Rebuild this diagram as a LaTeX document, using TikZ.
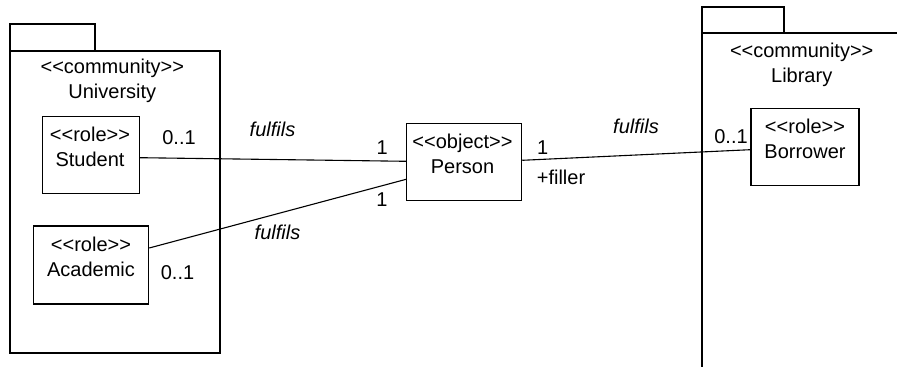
\documentclass[tikz,border=0pt]{standalone}
\usepackage{fontspec}
\setmainfont{Liberation Sans}[Ligatures=TeXOff]
\usetikzlibrary{positioning}
\newcommand{\stype}[1]{<\kern0pt<#1>\kern0pt>}

\begin{document}
\begin{tikzpicture}[x=0.5pt, y=-0.5pt, line width=0.55pt,
        every node/.style={font=\fontsize{10}{12.5}\selectfont},
        rolebox/.style={rectangle, draw, inner sep=0pt, minimum height=38.5pt},
        stereo/.style={align=center, inner sep=0pt},
        mult/.style={inner sep=0pt},
        assoc/.style={inner sep=0pt, font=\fontsize{10}{12.5}\selectfont\itshape}]
        \useasboundingbox (0,0) rectangle (897,367);

        \draw (10,24) rectangle (95,51);
        \draw (10,51) rectangle (220,353);
        \node[stereo] (univ) at (112.3,80.5) {\stype{community}\\University};

        \draw (702,7) rectangle (784,33);
        \draw (897,33) -- (702,33) -- (702,367);
        \node[stereo] (lib) at (801.7,64.5) {\stype{community}\\Library};

        \node[rolebox, minimum width=48.5pt] (student) at (90.8,154.7) {};
        \node[stereo] (studenttxt) at (90,146.5) {\stype{role}\\Student};
        \node[rolebox, minimum width=57.7pt, minimum height=39pt] (academic) at (91,265) {};
        \node[stereo] (academictxt) at (91,257) {\stype{role}\\Academic};
        \node[rolebox, minimum width=57.5pt] (person) at (464.2,162.3) {};
        \node[stereo] (persontxt) at (462.5,154) {\stype{object}\\Person};
        \node[rolebox, minimum width=54pt] (borrower) at (805,146.7) {};
        \node[stereo] (borrowertxt) at (805,139) {\stype{role}\\Borrower};

        \draw ([yshift=-1.5pt]student.east) -- ([yshift=0.5pt]person.west);
        \draw ([yshift=8.5pt]academic.east) -- ([yshift=-8.5pt]person.west);
        \draw ([yshift=1pt]person.east) -- ([yshift=-1.5pt]borrower.west);

        \node[mult] (m1) at (179,137.7) {0..1};
        \node[mult] (m2) at (177.5,272.7) {0..1};
        \node[mult] (m3) at (731,136.7) {0..1};
        \node[mult] (p1) at (382.3,147.7) {1};
        \node[mult] (p2) at (382,200) {1};
        \node[mult] (p3) at (542.7,147.7) {1};
        \node[mult] (filler) at (561,177.3) {+filler};
        \node[assoc] (f1) at (272.5,129.3) {fulfils};
        \node[assoc] (f2) at (277.5,232.7) {fulfils};
        \node[assoc] (f3) at (636,126) {fulfils};
    \end{tikzpicture}
\end{document}
